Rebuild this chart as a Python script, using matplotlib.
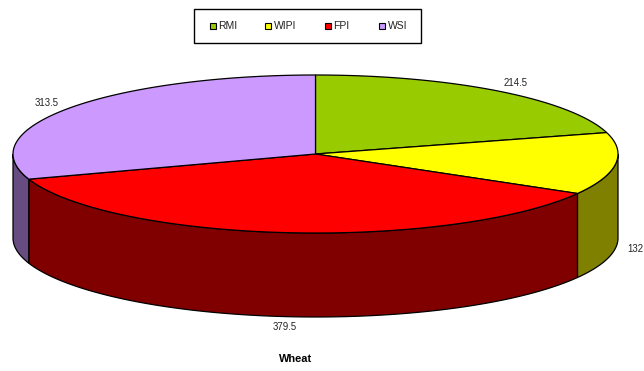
import numpy as np
from matplotlib import pyplot as plt
from matplotlib.patches import Rectangle

plt.rcParams['font.family'] = ['Liberation Sans', 'DejaVu Sans']

# data
names = ["RMI", "WIPI", "FPI", "WSI"]
values = [214.5, 132, 379.5, 313.5]
labels = ["214.5", "132", "379.5", "313.5"]
title = "Wheat"

top_colors = ["#99CC00", "#FFFF00", "#FF0000", "#CC99FF"]
side_colors = ["#4C6600", "#808000", "#800000", "#664C80"]

# pie geometry in pixels
cx, cy = 315.5, 154
rx, ry = 302.5, 79
depth = 84


def rim(a0, a1):
    # angles are clockwise from the top
    t = np.linspace(a0, a1, max(int(abs(a1 - a0) * 80), 2))
    return cx + rx * np.sin(t), cy - ry * np.cos(t)


fig = plt.figure(figsize=(6.44, 3.71), dpi=100)
ax = fig.add_axes([0, 0, 1, 1])
ax.set_xlim(0, 644)
ax.set_ylim(371, 0)
ax.axis('off')

fractions = np.array(values) / sum(values)
edges = np.concatenate([[0], np.cumsum(fractions)]) * 2 * np.pi

# side walls first, only the front half of the rim shows
for i in range(len(values)):
    a0 = max(edges[i], np.pi / 2)
    a1 = min(edges[i + 1], 3 * np.pi / 2)
    if a1 <= a0:
        continue
    x, y = rim(a0, a1)
    px = np.concatenate([x, x[::-1]])
    py = np.concatenate([y, y[::-1] + depth])
    ax.fill(px, py, facecolor=side_colors[i], edgecolor='black', lw=0.9, zorder=2)

# top faces
for i in range(len(values)):
    x, y = rim(edges[i], edges[i + 1])
    px = np.concatenate([[cx], x])
    py = np.concatenate([[cy], y])
    ax.fill(px, py, facecolor=top_colors[i], edgecolor='black', lw=0.9, zorder=3)

# value labels
label_pos = [(516, 83), (635, 249), (285, 327), (47, 103)]
for lab, (lx, ly) in zip(labels, label_pos):
    ax.text(lx, ly, lab, fontsize=6.9, color='#222222', ha='center', va='center')

ax.text(296, 359, title, fontsize=7.9, fontweight='bold', ha='center', va='center')

# legend box
ax.add_patch(Rectangle((194.5, 8.5), 226.5, 34, facecolor='white', edgecolor='black', lw=1.0, zorder=4))
swatch_x = [210, 265, 325, 379]
for name, color, sx in zip(names, top_colors, swatch_x):
    ax.add_patch(Rectangle((sx, 22.5), 6, 6, facecolor=color, edgecolor='black', lw=0.8, zorder=5))
    ax.text(sx + 8.5, 25.8, name, fontsize=7.5, color='#222222', ha='left', va='center', zorder=5)

fig.savefig('out.png', dpi=100)
